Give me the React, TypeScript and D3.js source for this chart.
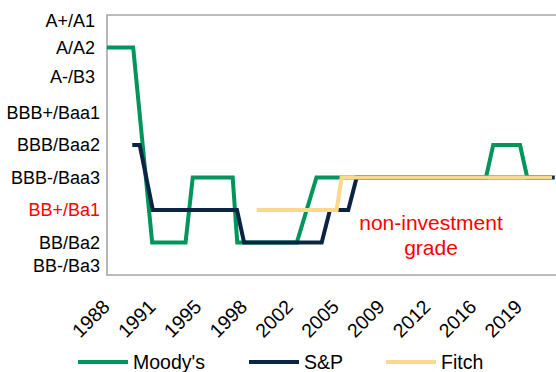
import React from "react";
import * as d3 from "d3";

// Rating scale, lowest to highest
const ratingLabels = [
  "BB-/Ba3",
  "BB/Ba2",
  "BB+/Ba1",
  "BBB-/Baa3",
  "BBB/Baa2",
  "BBB+/Baa1",
  "A-/B3 ",
  "A/A2 ",
  "A+/A1 ",
];

// Rating histories: time (fractional year) and rating level (index into ratingLabels)
const moodysYears = [1988, 1990.0, 1991.45, 1994.0, 1994.55, 1997.6, 1997.95, 2002.5, 2004.0, 2016.95, 2017.5, 2019.55, 2020.1, 2022.0];
const moodysLevels = [7, 7, 1, 1, 3, 3, 1, 1, 3, 3, 4, 4, 3, 3];

const spYears = [1989.93, 1990.5, 1991.5, 1997.93, 1998.47, 2004.4, 2005.03, 2006.43, 2007.07, 2022.2];
const spLevels = [4, 4, 2, 2, 1, 1, 2, 2, 3, 3];

const fitchYears = [1999.43, 2005.54, 2005.92, 2022.0];
const fitchLevels = [2, 2, 3, 3];

// Axis ticks every three and a half years
const tickYears = [1988, 1991.5, 1995, 1998.5, 2002, 2005.5, 2009, 2012.5, 2016, 2019.5];
const tickLabels = ["1988", "1991", "1995", "1998", "2002", "2005", "2009", "2012", "2016", "2019"];

const seriesNames = ["Moody's", "S&P", "Fitch"];
const seriesColors = ["#00955A", "#0B2444", "#FBD98A"];

const W = 556;
const H = 372;
const plot = { left: 107, top: 15, right: 558, bottom: 275 };
const FONT = "'Liberation Sans', Arial, sans-serif";

export default function App() {
  const x = d3.scaleLinear().domain([1988, 2022.45]).range([plot.left, plot.right]);
  const y = d3.scaleLinear().domain([0, 8]).range([plot.bottom, plot.top]);

  const line = d3
    .line<[number, number]>()
    .x((d) => x(d[0]))
    .y((d) => y(d[1]));

  const series = [
    moodysYears.map((t, i) => [t, moodysLevels[i]] as [number, number]),
    spYears.map((t, i) => [t, spLevels[i]] as [number, number]),
    fitchYears.map((t, i) => [t, fitchLevels[i]] as [number, number]),
  ];

  const legendX = [78, 249, 386];

  return (
    <svg
      width={W}
      height={H}
      style={{ position: "absolute", left: 0, top: 0, background: "#fff" }}
      fontFamily={FONT}
    >
      {/* plot frame */}
      <path
        d={`M${plot.right},${plot.top}H${plot.left}V${plot.bottom}H${plot.right}`}
        fill="none"
        stroke="#A6A6A6"
        strokeWidth={1.6}
      />

      {/* rating labels */}
      {ratingLabels.map((lab, i) => {
        let yy = y(i);
        if (i === 0) yy -= 9;
        if (i === ratingLabels.length - 1) yy += 6;
        if (i === 6) yy -= 3;
        return (
          <text
            key={lab}
            x={100}
            y={yy}
            dy="0.35em"
            textAnchor="end"
            fontSize={18}
            fill={i === 2 ? "#FF0000" : "#000"}
            style={{ whiteSpace: "pre" }}
          >
            {lab}
          </text>
        );
      })}

      {/* time axis labels */}
      {tickYears.map((t, i) => (
        <text
          key={t}
          transform={`translate(${x(t) + 4},${308}) rotate(-45)`}
          textAnchor="end"
          fontSize={19.5}
          fill="#000"
        >
          {tickLabels[i]}
        </text>
      ))}

      {/* rating lines */}
      <g fill="none" strokeWidth={4} strokeLinejoin="miter">
        {series.map((s, i) => (
          <path key={seriesNames[i]} d={line(s) || ""} stroke={seriesColors[i]} />
        ))}
      </g>

      {/* annotation */}
      <text x={431} y={230} textAnchor="middle" fontSize={21} fill="#FF0000">
        non-investment
      </text>
      <text x={431} y={255} textAnchor="middle" fontSize={21} fill="#FF0000">
        grade
      </text>

      {/* legend */}
      {seriesNames.map((name, i) => (
        <g key={name}>
          <line
            x1={legendX[i]}
            x2={legendX[i] + 50}
            y1={362}
            y2={362}
            stroke={seriesColors[i]}
            strokeWidth={4}
          />
          <text x={legendX[i] + 55} y={369} fontSize={19.5} fill="#000">
            {name}
          </text>
        </g>
      ))}
    </svg>
  );
}
